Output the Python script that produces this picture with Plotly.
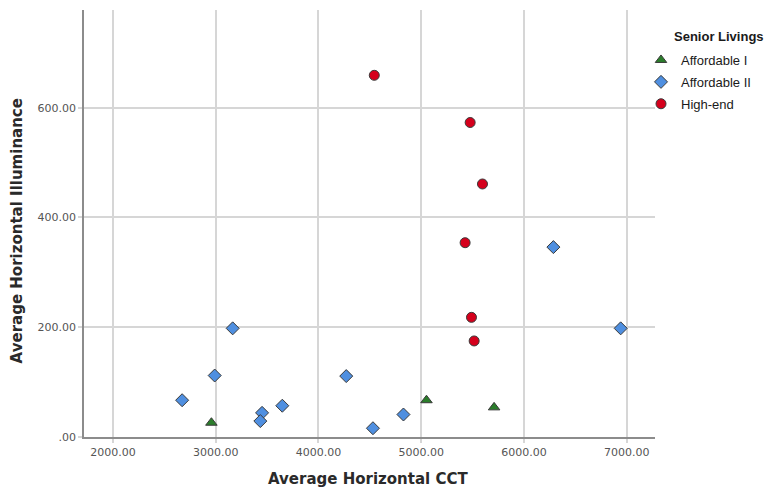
import plotly.graph_objects as go

# Average horizontal CCT (K) and illuminance (lux) per site, by senior-living type
affordable1_cct = [2958, 5051, 5709]
affordable1_lux = [26, 67, 54]

affordable2_cct = [2673, 2990, 3165, 3451, 3434, 3648, 4270, 4530, 4827, 6286, 6941]
affordable2_lux = [67, 112, 198, 44, 29, 57, 111, 16, 41, 346, 198]

highend_cct = [4543, 5476, 5596, 5427, 5489, 5515]
highend_lux = [659, 573, 461, 354, 218, 175]

x_ticks = [2000, 3000, 4000, 5000, 6000, 7000]
x_ticktext = ["2000.00", "3000.00", "4000.00", "5000.00", "6000.00", "7000.00"]
y_ticks = [0, 200, 400, 600]
y_ticktext = [".00", "200.00", "400.00", "600.00"]

outline = dict(color="#3a3a3a", width=1)

fig = go.Figure()
fig.add_trace(go.Scatter(
    x=affordable1_cct, y=affordable1_lux, mode="markers", name="Affordable I",
    legendgroup="a1",
    marker=dict(symbol="triangle-up", size=10, color="#2b7d2b", line=outline),
))
fig.add_trace(go.Scatter(
    x=affordable2_cct, y=affordable2_lux, mode="markers", name="Affordable II",
    legendgroup="a2",
    marker=dict(symbol="diamond", size=10, color="#4f8fe0", line=outline),
))
fig.add_trace(go.Scatter(
    x=highend_cct, y=highend_lux, mode="markers", name="High-end",
    legendgroup="he",
    marker=dict(symbol="circle", size=10, color="#d5001c", line=outline),
))

tick_font = dict(family="DejaVu Sans", size=11, color="#555555")
title_font = dict(family="DejaVu Sans", size=15, color="#2a2a2a")
legend_font = dict(family="Liberation Sans", size=13, color="#1a1a1a")

fig.update_layout(
    width=768, height=491,
    margin=dict(l=84, r=113, t=10, b=54, autoexpand=False),
    plot_bgcolor="white", paper_bgcolor="white",
    showlegend=True,
    legend=dict(
        x=0.9755, y=0.918, xanchor="left", yanchor="top",
        font=legend_font,
        tracegroupgap=2, itemwidth=30, bgcolor="rgba(0,0,0,0)",
    ),
    xaxis=dict(
        range=[1718, 7275], tickvals=x_ticks, ticktext=x_ticktext,
        showgrid=True, gridcolor="#d6d6d6", gridwidth=1.5,
        showline=True, linecolor="#8c8c8c", linewidth=1.5,
        ticks="outside", ticklen=4, tickcolor="#d6d6d6", tickwidth=1.5,
        tickfont=tick_font, zeroline=False,
    ),
    yaxis=dict(
        range=[0, 778], tickvals=y_ticks, ticktext=y_ticktext,
        showgrid=True, gridcolor="#d6d6d6", gridwidth=1.5,
        showline=True, linecolor="#8c8c8c", linewidth=1.5,
        ticks="outside", ticklen=4, tickcolor="#d6d6d6", tickwidth=1.5,
        tickfont=tick_font, zeroline=False,
    ),
    annotations=[
        dict(text="<b>Average Horizontal CCT</b>", xref="paper", yref="paper",
             x=0.497, y=-0.099, xanchor="center", yanchor="middle",
             showarrow=False, font=title_font),
        dict(text="<b>Average Horizontal Illuminance</b>", xref="paper", yref="paper",
             x=-0.117, y=0.482, xanchor="center", yanchor="middle",
             textangle=-90, showarrow=False, font=title_font),
        dict(text="<b>Senior Livings</b>", xref="paper", yref="paper",
             x=1.0298, y=0.9368, xanchor="left", yanchor="middle",
             showarrow=False, font=legend_font),
    ],
)

fig.write_html("out.html")
